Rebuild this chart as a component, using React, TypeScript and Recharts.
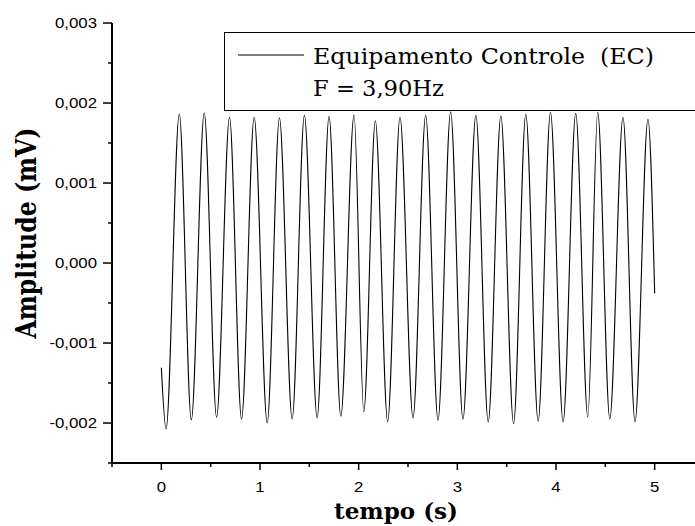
import { LineChart, Line, XAxis, YAxis } from "recharts";

const tempo = [
  0, 0.048, 0.182, 0.304, 0.435, 0.56, 0.691, 0.813, 0.941, 1.073, 1.197,
  1.326, 1.45, 1.579, 1.7, 1.819, 1.953, 2.052, 2.169, 2.294, 2.419, 2.551,
  2.679, 2.804, 2.932, 3.057, 3.188, 3.313, 3.441, 3.57, 3.694, 3.819, 3.944,
  4.072, 4.2, 4.322, 4.423, 4.545, 4.679, 4.801, 4.932, 5.0,
];
const amplitude = [
  -0.00131, -0.002075, 0.001862, -0.001962, 0.001879, -0.001929, 0.001821,
  -0.001954, 0.001821, -0.002, 0.001816, -0.00195, 0.001846, -0.001934,
  0.001834, -0.001916, 0.001854, -0.001859, 0.001779, -0.001984, 0.001821,
  -0.001937, 0.001846, -0.001966, 0.001891, -0.001954, 0.001846, -0.001987,
  0.001841, -0.002009, 0.001859, -0.001979, 0.001884, -0.001987, 0.001871,
  -0.001925, 0.001884, -0.00195, 0.001821, -0.001984, 0.001796, -0.000379,
];

const serieNome = "Equipamento Controle  (EC)";
const frequencia = "F = 3,90Hz";

const xTicks = [-0.5, 0, 0.5, 1, 1.5, 2, 2.5, 3, 3.5, 4, 4.5, 5, 5.5];
const xTickLabels = ["", "0", "", "1", "", "2", "", "3", "", "4", "", "5", ""];
const yTicks = [
  -0.0025, -0.002, -0.0015, -0.001, -0.0005, 0, 0.0005, 0.001, 0.0015, 0.002,
  0.0025, 0.003,
];
const yTickLabels = [
  "", "-0,002", "", "-0,001", "", "0,000", "", "0,001", "", "0,002", "", "0,003",
];

const data = tempo.map((t, i) => ({ t, v: amplitude[i] }));

const sans = "'Liberation Sans', Arial, sans-serif";
const serif = "'DejaVu Serif', serif";

function findLabel(ticks: number[], labels: string[], v: number) {
  const i = ticks.findIndex((t) => Math.abs(t - v) < 1e-9);
  return i >= 0 ? labels[i] : "";
}

const BottomTick = (props: any) => {
  const { x, y, payload } = props;
  const label = findLabel(xTicks, xTickLabels, payload.value);
  const len = label ? 7 : 4;
  return (
    <g>
      <line x1={x} y1={y} x2={x} y2={y + len} stroke="#000" strokeWidth={1.5} />
      {label && (
        <text
          transform={`translate(${x},${y + 29}) scale(1.2,1)`}
          textAnchor="middle"
          fontFamily={sans}
          fontSize={14}
          fill="#000"
        >
          {label}
        </text>
      )}
    </g>
  );
};

const TopTick = (props: any) => {
  const { x, y, payload } = props;
  const label = findLabel(xTicks, xTickLabels, payload.value);
  const len = label ? 8 : 4;
  return <line x1={x} y1={y} x2={x} y2={y + len} stroke="#000" strokeWidth={1.5} />;
};

const LeftTick = (props: any) => {
  const { x, y, payload } = props;
  const label = findLabel(yTicks, yTickLabels, payload.value);
  const len = label ? 9 : 4;
  return (
    <g>
      <line x1={x - len} y1={y} x2={x} y2={y} stroke="#000" strokeWidth={1.5} />
      {label && (
        <text
          transform={`translate(${x - 15},${y + 5}) scale(1.2,1)`}
          textAnchor="end"
          fontFamily={sans}
          fontSize={14}
          fill="#000"
        >
          {label}
        </text>
      )}
    </g>
  );
};

const XTitle = (props: any) => {
  const { x, y } = props.viewBox;
  return (
    <text
      x={x + 284}
      y={y + 56}
      textAnchor="middle"
      fontFamily={serif}
      fontWeight="bold"
      fontSize={23}
      textLength={124}
      lengthAdjust="spacingAndGlyphs"
      fill="#000"
    >
      tempo (s)
    </text>
  );
};

const YTitle = (props: any) => {
  const { y } = props.viewBox;
  return (
    <text
      transform={`translate(36,${y + 210}) scale(1.2,1) rotate(-90)`}
      textAnchor="middle"
      fontFamily={serif}
      fontWeight="bold"
      fontSize={23}
      textLength={211}
      lengthAdjust="spacingAndGlyphs"
      fill="#000"
    >
      Amplitude (mV)
    </text>
  );
};

export default function App() {
  return (
    <div
      style={{
        position: "absolute",
        left: 0,
        top: 0,
        width: 695,
        height: 526,
        overflow: "hidden",
        background: "#fff",
      }}
    >
      <LineChart
        width={720}
        height={526}
        data={data}
        margin={{ top: 23, right: 16, left: 0, bottom: 0 }}
      >
        <XAxis
          dataKey="t"
          type="number"
          domain={[-0.5, 5.5]}
          ticks={xTicks}
          interval={0}
          height={63}
          tickSize={0}
          tickMargin={0}
          tick={<BottomTick />}
          axisLine={{ stroke: "#000", strokeWidth: 2 }}
          allowDataOverflow
          label={{ content: <XTitle /> }}
        />
        <XAxis
          xAxisId="top"
          orientation="top"
          dataKey="t"
          type="number"
          domain={[-0.5, 5.5]}
          ticks={xTicks}
          interval={0}
          height={0}
          tickSize={0}
          tickMargin={0}
          tick={<TopTick />}
          axisLine={{ stroke: "#000", strokeWidth: 2 }}
          allowDataOverflow
        />
        <YAxis
          type="number"
          domain={[-0.0025, 0.003]}
          ticks={yTicks}
          interval={0}
          width={112}
          tickSize={0}
          tickMargin={0}
          tick={<LeftTick />}
          axisLine={{ stroke: "#000", strokeWidth: 2 }}
          allowDataOverflow
          label={{ content: <YTitle /> }}
        />
        <Line
          dataKey="v"
          name={serieNome}
          type="monotone"
          stroke="#000"
          strokeWidth={1.1}
          dot={false}
          isAnimationActive={false}
        />
      </LineChart>
      <div
        style={{
          position: "absolute",
          left: 224,
          top: 32,
          width: 490,
          height: 79,
          border: "1.2px solid #000",
          boxSizing: "border-box",
          background: "#fff",
        }}
      >
        <svg width={490} height={79}>
          <line x1={13} y1={22} x2={79} y2={22} stroke="#000" strokeWidth={1.1} />
          <text
            x={88}
            y={31}
            fontFamily={serif}
            fontSize={22}
            textLength={341}
            lengthAdjust="spacingAndGlyphs"
            fill="#000"
            style={{ whiteSpace: "pre" }}
          >
            {serieNome}
          </text>
          <text
            x={88}
            y={63}
            fontFamily={serif}
            fontSize={22}
            textLength={131}
            lengthAdjust="spacingAndGlyphs"
            fill="#000"
          >
            {frequencia}
          </text>
        </svg>
      </div>
    </div>
  );
}
